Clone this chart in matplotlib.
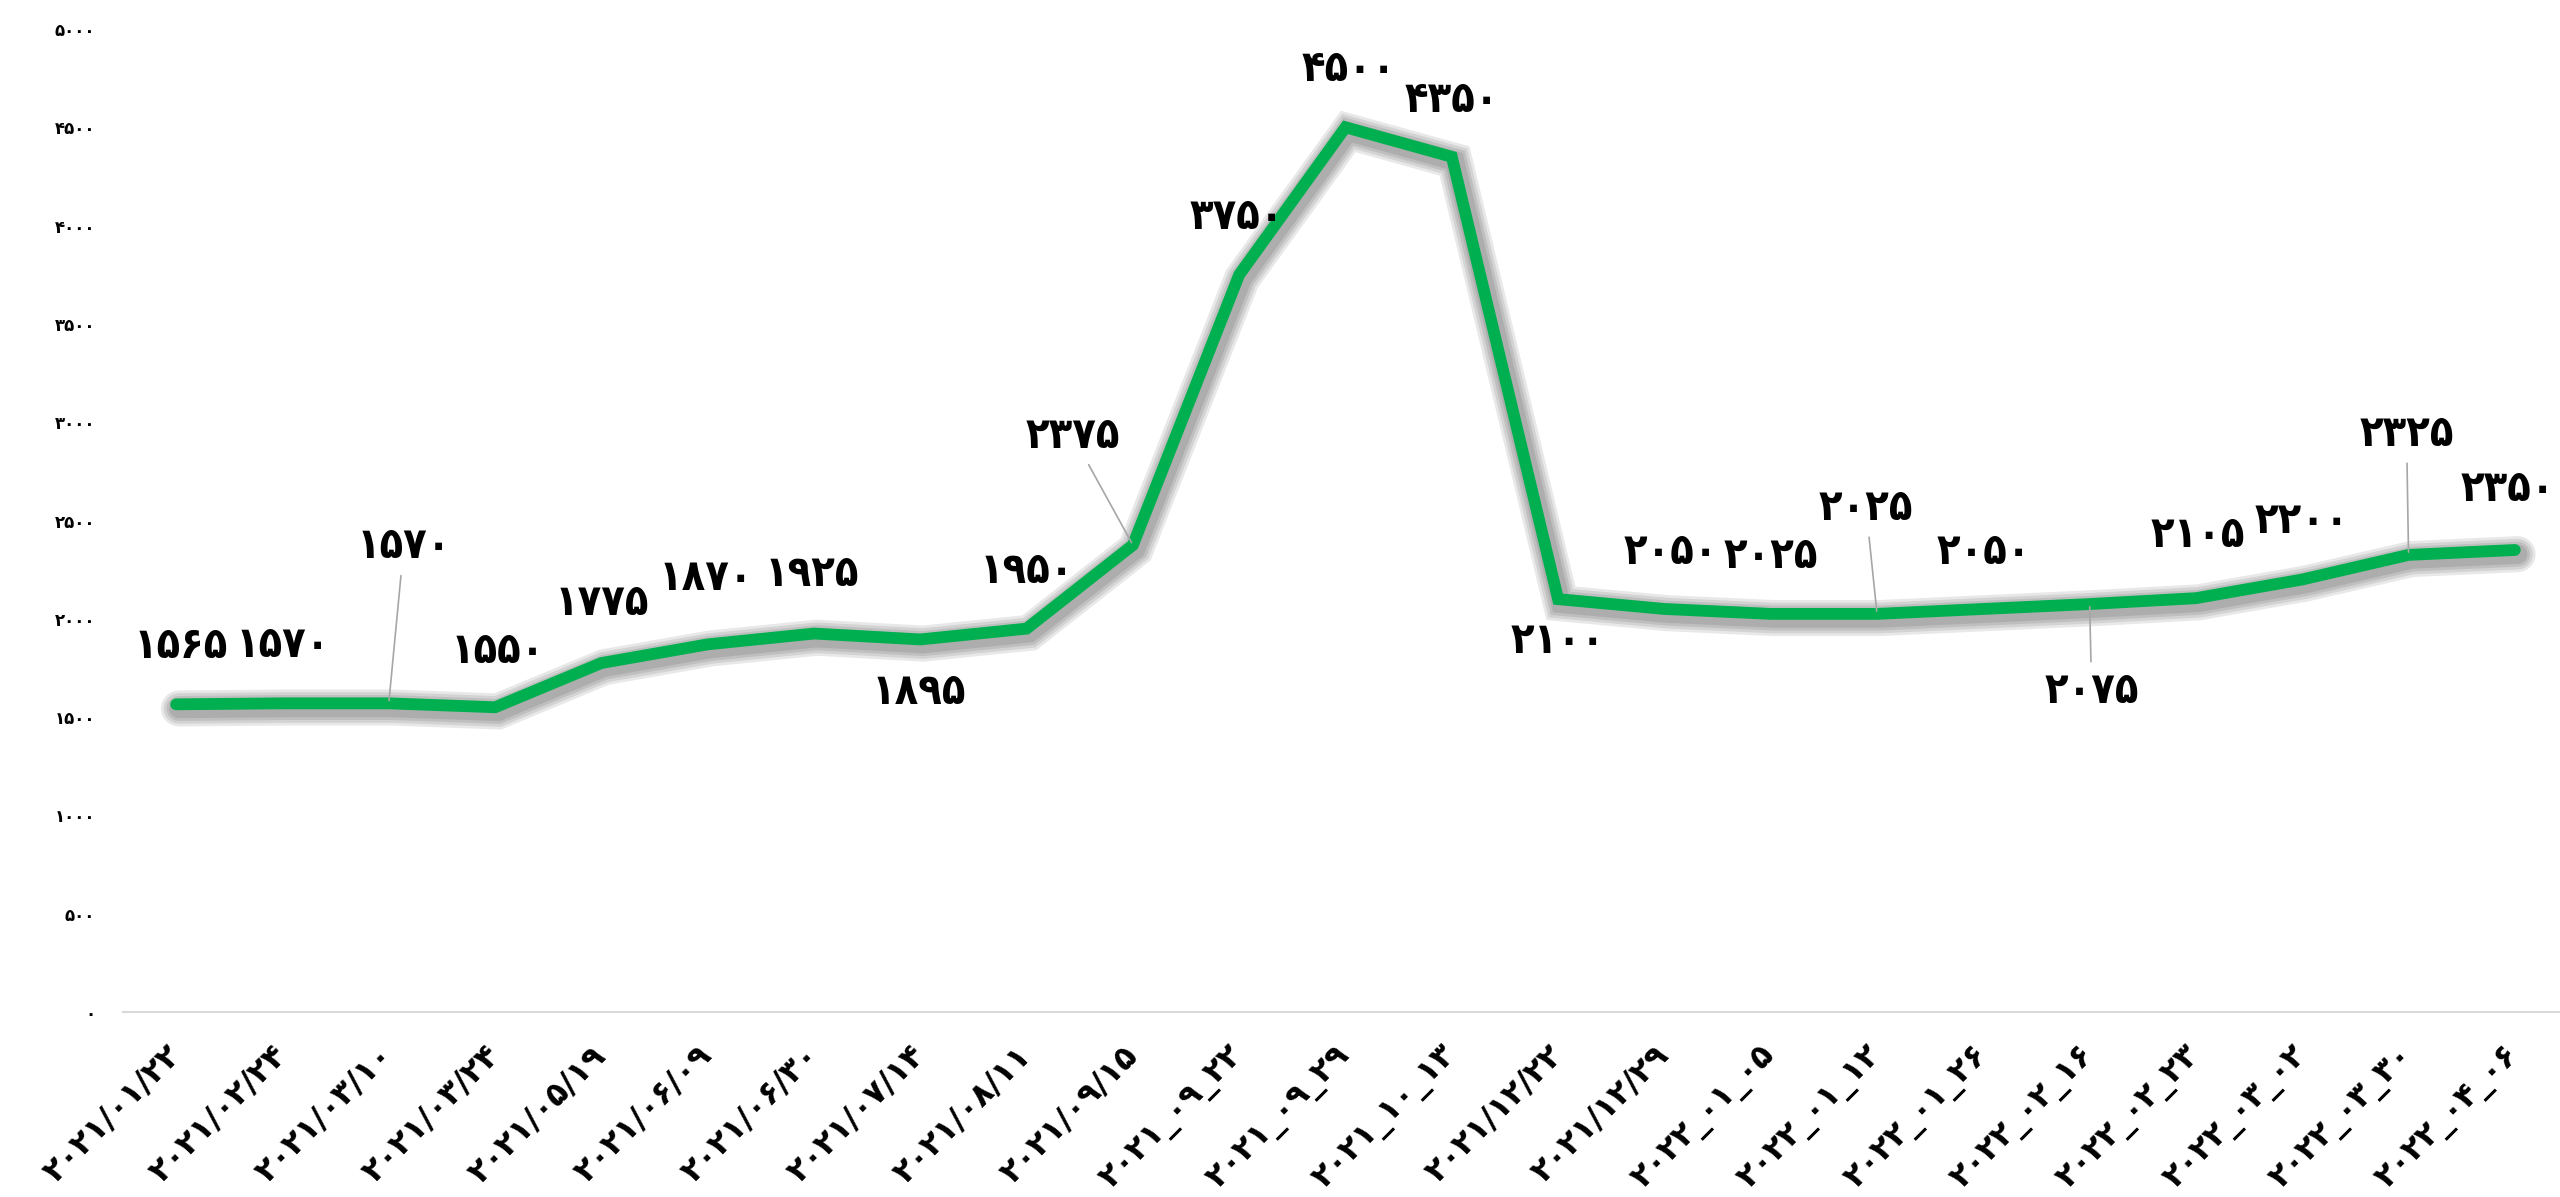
import matplotlib
matplotlib.use('Agg')
import matplotlib.pyplot as plt
import matplotlib.patheffects as pe

FA = str.maketrans('0123456789', '۰۱۲۳۴۵۶۷۸۹')

dates = ['۲۰۲۱/۰۱/۲۲', '۲۰۲۱/۰۲/۲۴', '۲۰۲۱/۰۳/۱۰', '۲۰۲۱/۰۳/۲۴', '۲۰۲۱/۰۵/۱۹',
         '۲۰۲۱/۰۶/۰۹', '۲۰۲۱/۰۶/۳۰', '۲۰۲۱/۰۷/۱۴', '۲۰۲۱/۰۸/۱۱', '۲۰۲۱/۰۹/۱۵',
         '۲۰۲۱_۰۹_۲۲', '۲۰۲۱_۰۹_۲۹', '۲۰۲۱_۱۰_۱۳', '۲۰۲۱/۱۲/۲۲', '۲۰۲۱/۱۲/۲۹',
         '۲۰۲۲_۰۱_۰۵', '۲۰۲۲_۰۱_۱۲', '۲۰۲۲_۰۱_۲۶', '۲۰۲۲_۰۲_۱۶', '۲۰۲۲_۰۲_۲۳',
         '۲۰۲۲_۰۳_۰۲', '۲۰۲۲_۰۳_۳۰', '۲۰۲۲_۰۴_۰۶']
prices = [1565, 1570, 1570, 1550, 1775, 1870, 1925, 1895, 1950, 2375, 3750, 4500,
          4350, 2100, 2050, 2025, 2025, 2050, 2075, 2105, 2200, 2325, 2350]
y_ticks = [0, 500, 1000, 1500, 2000, 2500, 3000, 3500, 4000, 4500, 5000]

# label offsets in pixels from each point, and which ones get a leader line
lab_off = [(5, 58), (0, 58), (15, 157), (3, 56), (0, 60), (-2, 66), (-2, 60), (-2, -53),
           (0, 58), (-60, 109), (-2, 58), (3, 58), (0, 57), (0, -42), (6, 57), (0, 58),
           (-11, 106), (0, 57), (2, -87), (2, 63), (0, 58), (-2, 121), (-7, 61)]
leaders = [2, 9, 16, 18, 21]

fig = plt.figure(figsize=(25.6, 11.97), dpi=100)
ax = fig.add_axes([123 / 2560, 1 - 1012 / 1197, 2445 / 2560, 983 / 1197])

xs = list(range(len(prices)))
shadow = [pe.SimpleLineShadow(offset=(2, -3), shadow_color='k', alpha=0.09, linewidth=w)
          for w in (26, 22, 18, 14)]
ax.plot(xs, prices, color='#00B050', lw=8.5, solid_joinstyle='miter',
        solid_capstyle='round', path_effects=shadow + [pe.Normal()], zorder=3)

for i, v in enumerate(prices):
    dx, dy = lab_off[i]
    ap = None
    if i in leaders:
        ap = dict(arrowstyle='-', color='#A6A6A6', lw=1.2, shrinkA=4, shrinkB=2)
    ax.annotate(str(v).translate(FA), (i, v), xytext=(dx, dy), textcoords='offset pixels',
                ha='center', va='center', fontsize=31, fontweight='bold',
                fontstretch='condensed', family='DejaVu Sans', arrowprops=ap, zorder=4,
                annotation_clip=False)

ax.set_xlim(-0.5, len(prices) - 0.5)
ax.set_ylim(0, 5000)
for s in ['top', 'right', 'left']:
    ax.spines[s].set_visible(False)
ax.spines['bottom'].set_color('#D9D9D9')
ax.spines['bottom'].set_linewidth(1.5)

ax.set_yticks(y_ticks)
ax.set_yticklabels([str(t).translate(FA) for t in y_ticks], fontsize=12, fontweight='bold')
ax.set_xticks(xs)
ax.set_xticklabels(dates, rotation=45, ha='right', va='center', rotation_mode='anchor',
                   fontsize=23, fontweight='bold')
ax.tick_params(axis='y', length=0, pad=20)
ax.tick_params(axis='x', length=0, pad=28)

fig.savefig('out.png', dpi=100)
